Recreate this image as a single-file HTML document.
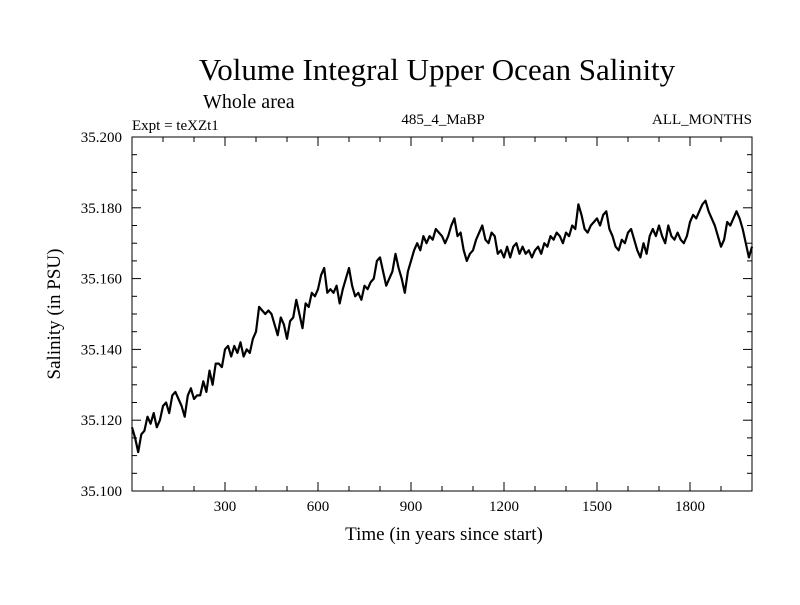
<!DOCTYPE html>
<html><head><meta charset="utf-8"><style>
body{margin:0;background:#fff}
svg text{font-family:"Liberation Serif",serif;fill:#000}
</style></head><body>
<svg id="chart" width="800" height="600">
<text x="437" y="80" font-size="31" text-anchor="middle">Volume Integral Upper Ocean Salinity</text>
<text x="203" y="108" font-size="20">Whole area</text>
<text x="132" y="130" font-size="15">Expt = teXZt1</text>
<text x="443" y="124" font-size="15" text-anchor="middle">485_4_MaBP</text>
<text x="752" y="124" font-size="15" text-anchor="end">ALL_MONTHS</text>
<text x="444" y="540" font-size="19" text-anchor="middle">Time (in years since start)</text>
<text transform="translate(60,314) rotate(-90)" font-size="19" text-anchor="middle">Salinity (in PSU)</text>
<g id="axes"></g>
<path id="line" fill="none" stroke="#000" stroke-width="2.2" stroke-linejoin="round"/>
</svg>
<script>
const years=[];for(let i=0;i<=200;i++)years.push(i*10);
const salinity=[35.118,35.115,35.111,35.116,35.117,35.121,35.119,35.122,35.118,35.120,35.124,35.125,35.122,35.127,35.128,35.126,35.124,35.121,35.127,35.129,35.126,35.127,35.127,35.131,35.128,35.134,35.130,35.136,35.136,35.135,35.140,35.141,35.138,35.141,35.139,35.142,35.138,35.140,35.139,35.143,35.145,35.152,35.151,35.150,35.151,35.150,35.147,35.144,35.149,35.147,35.143,35.148,35.149,35.154,35.150,35.146,35.153,35.152,35.156,35.155,35.157,35.161,35.163,35.156,35.157,35.156,35.158,35.153,35.157,35.160,35.163,35.158,35.155,35.156,35.154,35.158,35.157,35.159,35.160,35.165,35.166,35.162,35.158,35.160,35.162,35.167,35.163,35.160,35.156,35.162,35.165,35.168,35.170,35.168,35.172,35.170,35.172,35.171,35.174,35.173,35.172,35.170,35.172,35.175,35.177,35.172,35.173,35.168,35.165,35.167,35.168,35.171,35.173,35.175,35.171,35.170,35.173,35.172,35.167,35.168,35.166,35.169,35.166,35.169,35.170,35.167,35.169,35.167,35.168,35.166,35.168,35.169,35.167,35.170,35.169,35.172,35.171,35.173,35.172,35.170,35.173,35.172,35.175,35.174,35.181,35.178,35.174,35.173,35.175,35.176,35.177,35.175,35.178,35.179,35.174,35.172,35.169,35.168,35.171,35.170,35.173,35.174,35.171,35.168,35.166,35.170,35.167,35.172,35.174,35.172,35.175,35.172,35.170,35.175,35.172,35.171,35.173,35.171,35.170,35.172,35.176,35.178,35.177,35.179,35.181,35.182,35.179,35.177,35.175,35.172,35.169,35.171,35.176,35.175,35.177,35.179,35.177,35.174,35.170,35.166,35.169];
const xTicks=[300,600,900,1200,1500,1800];
const yTicks=[35.100,35.120,35.140,35.160,35.180,35.200];
const L=132,R=752,T=137,B=491;
const xs=v=>L+(v-0)/2000*(R-L);
const ys=v=>B-(v-35.1)/0.1*(B-T);
const NS="http://www.w3.org/2000/svg";
const ax=document.getElementById('axes');
function line(x1,y1,x2,y2,name){const l=document.createElementNS(NS,'line');
l.setAttribute('x1',x1);l.setAttribute('y1',y1);l.setAttribute('x2',x2);l.setAttribute('y2',y2);
l.setAttribute('stroke','#000');l.setAttribute('stroke-width','1');


ax.appendChild(l);}
const fr=document.createElementNS(NS,'rect');
fr.setAttribute('x',L);fr.setAttribute('y',T);fr.setAttribute('width',R-L);fr.setAttribute('height',B-T);
fr.setAttribute('fill','none');fr.setAttribute('stroke','#000');


ax.appendChild(fr);
for(let v=100;v<2000;v+=100){const x=xs(v);const len=(v%300===0)?9:5;
line(x,B,x,B-len,'x-tick');line(x,T,x,T+len,'x-tick-top');}
for(let k=1;k<20;k++){const v=35.1+k*0.005;const y=ys(v);const len=(k%4===0)?9:5;
line(L,y,L+len,y,'y-tick');line(R,y,R-len,y,'y-tick-right');}
xTicks.forEach(v=>{const t=document.createElementNS(NS,'text');t.setAttribute('x',xs(v));t.setAttribute('y',B+20);
t.setAttribute('font-size','15');t.setAttribute('text-anchor','middle');t.textContent=v;


ax.appendChild(t);});
yTicks.forEach(v=>{const t=document.createElementNS(NS,'text');t.setAttribute('x',L-10);t.setAttribute('y',ys(v)+5);
t.setAttribute('font-size','15');t.setAttribute('text-anchor','end');t.textContent=v.toFixed(3);


ax.appendChild(t);});
document.getElementById('line').setAttribute('d',salinity.map((v,i)=>(i?'L':'M')+xs(years[i]).toFixed(1)+' '+ys(v).toFixed(1)).join(''));
</script>
</body></html>
